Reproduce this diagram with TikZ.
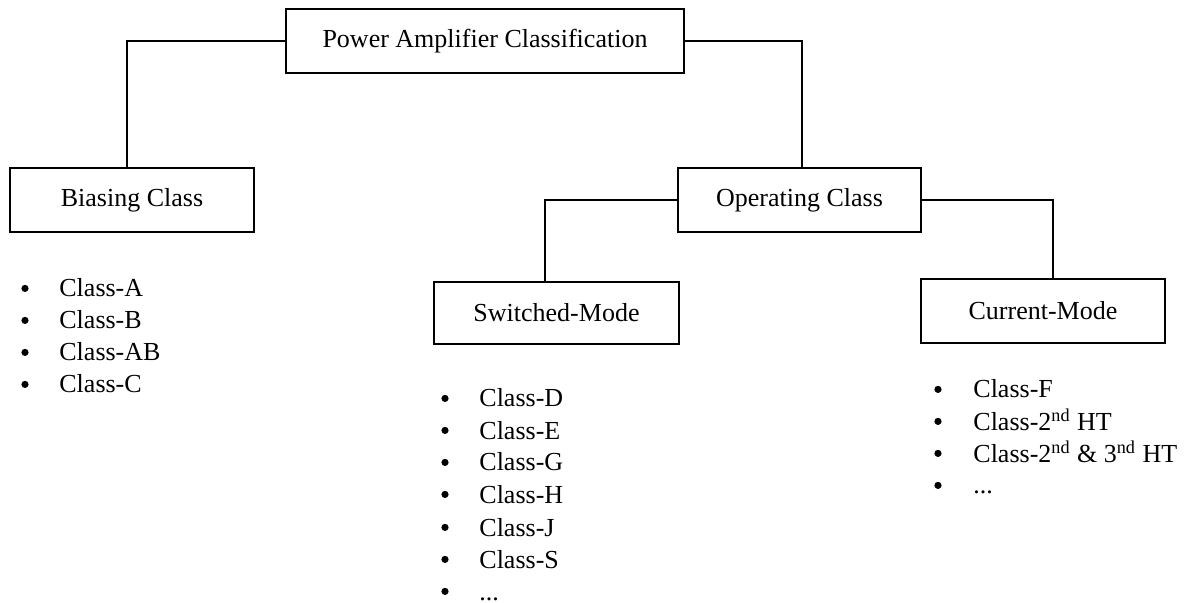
\documentclass[tikz,border=0pt]{standalone}
\usepackage{fontspec}
\setmainfont{Liberation Serif}
\begin{document}
\begin{tikzpicture}[x=0.5pt,y=-0.5pt,
  txt/.style={font=\fontsize{13}{15}\selectfont},
  box/.style={draw, line width=0.7pt, minimum height=32pt, inner sep=0pt, txt},
  conn/.style={line width=0.7pt},
  item/.style={anchor=base west, inner sep=0pt, txt},
  bul/.style={circle, fill, inner sep=0pt, minimum size=3.6pt, yshift=4.3pt}]
\useasboundingbox (0,0) rectangle (1187,603);
% boxes
\node[box, minimum width=199pt] (pac) at (485,41) {Power Amplifier Classification};
\node[box, minimum width=122pt] (bias) at (132,200) {Biasing Class};
\node[box, minimum width=121.5pt] (oper) at (799.5,200) {Operating Class};
\node[box, minimum width=122.5pt, minimum height=31pt] (sw) at (556.5,313) {Switched-Mode};
\node[box, minimum width=122pt] (cur) at (1043,311) {Current-Mode};
% connectors
\draw[conn] (pac.west) -| ([xshift=-2.5pt]bias.north);
\draw[conn] (pac.east) -| ([xshift=1.25pt]oper.north);
\draw[conn] (oper.west) -| ([xshift=-5.75pt]sw.north);
\draw[conn] (oper.east) -| ([xshift=5pt]cur.north);
% biasing list
\node[bul] (bb0) at (25,297) {};
\node[item] (bt0) at (59,297) {Class-A};
\node[bul] (bb1) at (25,329) {};
\node[item] (bt1) at (59,329) {Class-B};
\node[bul] (bb2) at (25,361) {};
\node[item] (bt2) at (59,361) {Class-AB};
\node[bul] (bb3) at (25,393) {};
\node[item] (bt3) at (59,393) {Class-C};
% switched list
\node[bul] (sb0) at (445,407) {};
\node[item] (st0) at (479,407) {Class-D};
\node[bul] (sb1) at (445,439) {};
\node[item] (st1) at (479,439) {Class-E};
\node[bul] (sb2) at (445,471) {};
\node[item] (st2) at (479,471) {Class-G};
\node[bul] (sb3) at (445,503) {};
\node[item] (st3) at (479,503) {Class-H};
\node[bul] (sb4) at (445,536) {};
\node[item] (st4) at (479,536) {Class-J};
\node[bul] (sb5) at (445,568) {};
\node[item] (st5) at (479,568) {Class-S};
\node[bul] (sb6) at (445,600) {};
\node[item] (st6) at (479,600) {...};
% current list
\node[bul] (cb0) at (938,398) {};
\node[item] (ct0) at (973,398) {Class-F};
\node[bul] (cb1) at (938,430) {};
\node[item] (ct1) at (973,430) {Class-2\textsuperscript{nd} HT};
\node[bul] (cb2) at (938,462) {};
\node[item] (ct2) at (973,462) {Class-2\textsuperscript{nd} \& 3\textsuperscript{nd} HT};
\node[bul] (cb3) at (938,494) {};
\node[item] (ct3) at (973,494) {...};
\end{tikzpicture}
\end{document}
